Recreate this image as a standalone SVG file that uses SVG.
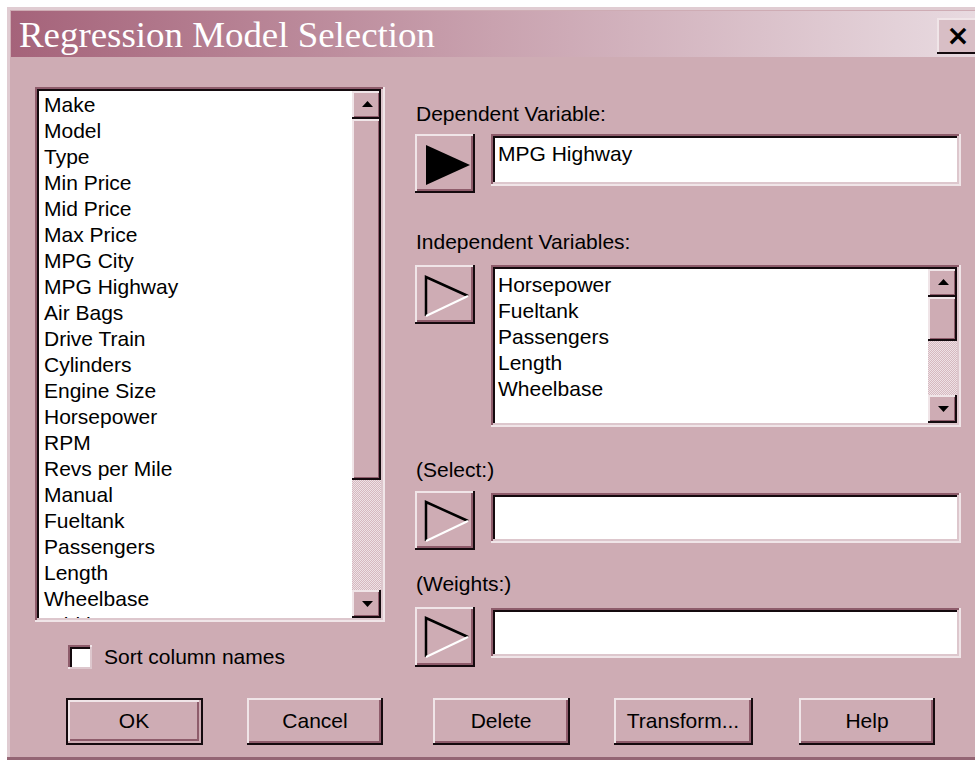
<svg xmlns="http://www.w3.org/2000/svg" width="975" height="760" viewBox="0 0 975 760">
<defs>
<linearGradient id="tg" x1="0" y1="0" x2="1" y2="0">
<stop offset="0" stop-color="#A5637A"/>
<stop offset="0.5" stop-color="#C9A2AF"/>
<stop offset="1" stop-color="#E8DAE0"/>
</linearGradient>
<pattern id="chk" width="2" height="2" patternUnits="userSpaceOnUse">
<rect width="2" height="2" fill="#D6B8BF"/>
<rect width="1" height="1" fill="#EEE2E6"/>
<rect x="1" y="1" width="1" height="1" fill="#EEE2E6"/>
</pattern>
<clipPath id="clipL"><rect x="39" y="91" width="313" height="527"/></clipPath>
<clipPath id="clipR"><rect x="495" y="269" width="433" height="154"/></clipPath>
</defs>
<style>
.t{font-family:"Liberation Sans",Arial,sans-serif;font-size:21px;fill:#000}
.c{text-anchor:middle}
.face{fill:#CEACB4}
.hi{fill:#F0E5E8}
.sh{fill:#8E5C6B}
.dk{fill:#140A0E}
.lt{fill:#DDC7CD}
.wh{fill:#FFFFFF}
.arr{fill:#000}
</style>

<!-- window frame -->
<rect x="0" y="0" width="975" height="760" fill="#FFFFFF"/>
<rect x="7" y="7" width="968" height="753" fill="#E0CCD2"/>
<rect x="10" y="10" width="965" height="747" class="face"/>
<rect x="7" y="757" width="968" height="3" fill="#946574"/>

<!-- title bar -->
<g id="titlebar">
<rect x="11" y="11" width="964" height="46" fill="url(#tg)"/>
<text x="19" y="47" font-family="'Liberation Serif','Times New Roman',serif" font-size="35" fill="#FFFFFF" textLength="416" lengthAdjust="spacingAndGlyphs">Regression Model Selection</text>
</g>
<g id="close">
<rect x="937" y="18" width="38" height="36" class="dk"/>
<rect x="937" y="18" width="38" height="34" class="hi"/>
<rect x="939" y="20" width="36" height="32" fill="#D8BEC5"/>
<text x="958" y="45" text-anchor="middle" font-family="'DejaVu Sans',sans-serif" font-weight="bold" font-size="28" fill="#000">×</text>
</g>

<!-- left variable list -->
<g id="varlist">
<rect x="35" y="87" width="350" height="535" class="hi"/>
<rect x="35" y="87" width="348" height="533" class="sh"/>
<rect x="37" y="89" width="346" height="531" class="lt"/>
<rect x="37" y="89" width="344" height="529" class="dk"/>
<rect x="39" y="91" width="342" height="527" class="wh"/>
<g clip-path="url(#clipL)" class="t">
<text x="44" y="112">Make</text>
<text x="44" y="138">Model</text>
<text x="44" y="164">Type</text>
<text x="44" y="190">Min Price</text>
<text x="44" y="216">Mid Price</text>
<text x="44" y="242">Max Price</text>
<text x="44" y="268">MPG City</text>
<text x="44" y="294">MPG Highway</text>
<text x="44" y="320">Air Bags</text>
<text x="44" y="346">Drive Train</text>
<text x="44" y="372">Cylinders</text>
<text x="44" y="398">Engine Size</text>
<text x="44" y="424">Horsepower</text>
<text x="44" y="450">RPM</text>
<text x="44" y="476">Revs per Mile</text>
<text x="44" y="502">Manual</text>
<text x="44" y="528">Fueltank</text>
<text x="44" y="554">Passengers</text>
<text x="44" y="580">Length</text>
<text x="44" y="606">Wheelbase</text>
<text x="44" y="632">Width</text>
</g>
<!-- scrollbar -->
<rect x="352" y="91" width="29" height="527" fill="url(#chk)"/>
<rect x="352" y="91" width="29" height="28" class="dk"/>
<rect x="352" y="91" width="27" height="26" class="hi"/>
<rect x="354" y="93" width="25" height="24" class="sh"/>
<rect x="354" y="93" width="24" height="23" class="face"/>
<polygon points="362,107 373,107 367.5,101" class="arr"/>
<rect x="352" y="119" width="29" height="361" class="dk"/>
<rect x="352" y="119" width="27" height="359" class="hi"/>
<rect x="354" y="121" width="25" height="357" class="sh"/>
<rect x="354" y="121" width="24" height="356" class="face"/>
<rect x="352" y="590" width="29" height="28" class="dk"/>
<rect x="352" y="590" width="27" height="26" class="hi"/>
<rect x="354" y="592" width="25" height="24" class="sh"/>
<rect x="354" y="592" width="24" height="23" class="face"/>
<polygon points="362,601 373,601 367.5,607" class="arr"/>
</g>

<!-- sort checkbox -->
<g id="sortcheck">
<rect x="68" y="645" width="24" height="24" class="hi"/>
<rect x="68" y="645" width="22" height="22" class="sh"/>
<rect x="70" y="647" width="22" height="22" class="lt"/>
<rect x="70" y="647" width="20" height="20" class="dk"/>
<rect x="72" y="649" width="18" height="18" class="wh"/>
<text x="104" y="664" class="t">Sort column names</text>
</g>

<!-- dependent variable -->
<g id="dependent">
<text x="416" y="121" class="t">Dependent Variable:</text>
<rect x="415" y="134" width="60" height="59" class="dk"/>
<rect x="415" y="134" width="58" height="57" class="hi"/>
<rect x="417" y="136" width="56" height="55" class="sh"/>
<rect x="417" y="136" width="54" height="53" class="face"/>
<polygon points="426,145 470,165 426,185" class="arr"/>
<rect x="491" y="134" width="470" height="52" class="hi"/>
<rect x="491" y="134" width="468" height="50" class="sh"/>
<rect x="493" y="136" width="466" height="48" class="lt"/>
<rect x="493" y="136" width="464" height="46" class="dk"/>
<rect x="495" y="138" width="462" height="44" class="wh"/>
<text x="498" y="161" class="t">MPG Highway</text>
</g>

<!-- independent variables -->
<g id="independent">
<text x="416" y="249" class="t">Independent Variables:</text>
<rect x="415" y="265" width="60" height="59" class="dk"/>
<rect x="415" y="265" width="58" height="57" class="hi"/>
<rect x="417" y="267" width="56" height="55" class="sh"/>
<rect x="417" y="267" width="54" height="53" class="face"/>
<polyline points="426,316 426,277 468,296" fill="none" stroke="#000" stroke-width="2.5"/>
<line x1="468" y1="296" x2="426" y2="316" stroke="#FFFFFF" stroke-width="2"/>
<rect x="491" y="265" width="470" height="162" class="hi"/>
<rect x="491" y="265" width="468" height="160" class="sh"/>
<rect x="493" y="267" width="466" height="158" class="lt"/>
<rect x="493" y="267" width="464" height="156" class="dk"/>
<rect x="495" y="269" width="462" height="154" class="wh"/>
<g clip-path="url(#clipR)" class="t">
<text x="498" y="292">Horsepower</text>
<text x="498" y="318">Fueltank</text>
<text x="498" y="344">Passengers</text>
<text x="498" y="370">Length</text>
<text x="498" y="396">Wheelbase</text>
</g>
<rect x="928" y="269" width="29" height="154" fill="url(#chk)"/>
<rect x="928" y="269" width="29" height="28" class="dk"/>
<rect x="928" y="269" width="27" height="26" class="hi"/>
<rect x="930" y="271" width="25" height="24" class="sh"/>
<rect x="930" y="271" width="24" height="23" class="face"/>
<polygon points="938,285 949,285 943.5,279" class="arr"/>
<rect x="928" y="297" width="29" height="44" class="dk"/>
<rect x="928" y="297" width="27" height="42" class="hi"/>
<rect x="930" y="299" width="25" height="40" class="sh"/>
<rect x="930" y="299" width="24" height="39" class="face"/>
<rect x="928" y="395" width="29" height="28" class="dk"/>
<rect x="928" y="395" width="27" height="26" class="hi"/>
<rect x="930" y="397" width="25" height="24" class="sh"/>
<rect x="930" y="397" width="24" height="23" class="face"/>
<polygon points="938,406 949,406 943.5,412" class="arr"/>
</g>

<!-- select -->
<g id="select">
<text x="416" y="477" class="t">(Select:)</text>
<rect x="415" y="491" width="60" height="59" class="dk"/>
<rect x="415" y="491" width="58" height="57" class="hi"/>
<rect x="417" y="493" width="56" height="55" class="sh"/>
<rect x="417" y="493" width="54" height="53" class="face"/>
<polyline points="426,541 426,502 468,521" fill="none" stroke="#000" stroke-width="2.5"/>
<line x1="468" y1="521" x2="426" y2="541" stroke="#FFFFFF" stroke-width="2"/>
<rect x="491" y="493" width="470" height="50" class="hi"/>
<rect x="491" y="493" width="468" height="48" class="sh"/>
<rect x="493" y="495" width="466" height="46" class="lt"/>
<rect x="493" y="495" width="464" height="44" class="dk"/>
<rect x="495" y="497" width="462" height="42" class="wh"/>
</g>

<!-- weights -->
<g id="weights">
<text x="416" y="591" class="t">(Weights:)</text>
<rect x="415" y="607" width="60" height="60" class="dk"/>
<rect x="415" y="607" width="58" height="58" class="hi"/>
<rect x="417" y="609" width="56" height="56" class="sh"/>
<rect x="417" y="609" width="54" height="54" class="face"/>
<polyline points="426,657 426,618 468,637" fill="none" stroke="#000" stroke-width="2.5"/>
<line x1="468" y1="637" x2="426" y2="657" stroke="#FFFFFF" stroke-width="2"/>
<rect x="491" y="608" width="470" height="50" class="hi"/>
<rect x="491" y="608" width="468" height="48" class="sh"/>
<rect x="493" y="610" width="466" height="46" class="lt"/>
<rect x="493" y="610" width="464" height="44" class="dk"/>
<rect x="495" y="612" width="462" height="42" class="wh"/>
</g>

<!-- bottom buttons -->
<g id="btn-ok">
<rect x="66" y="698" width="137" height="47" class="dk"/>
<rect x="68" y="700" width="133" height="43" class="face"/>
<rect x="68" y="700" width="131" height="41" class="hi"/>
<rect x="70" y="702" width="129" height="39" class="sh"/>
<rect x="70" y="702" width="127" height="37" class="face"/>
<text x="134" y="728" class="t c">OK</text>
</g>
<g id="btn-cancel">
<rect x="247" y="698" width="136" height="47" class="dk"/>
<rect x="247" y="698" width="134" height="45" class="hi"/>
<rect x="249" y="700" width="132" height="43" class="sh"/>
<rect x="249" y="700" width="130" height="41" class="face"/>
<text x="315" y="728" class="t c">Cancel</text>
</g>
<g id="btn-delete">
<rect x="433" y="698" width="137" height="47" class="dk"/>
<rect x="433" y="698" width="135" height="45" class="hi"/>
<rect x="435" y="700" width="133" height="43" class="sh"/>
<rect x="435" y="700" width="131" height="41" class="face"/>
<text x="501" y="728" class="t c">Delete</text>
</g>
<g id="btn-transform">
<rect x="614" y="698" width="139" height="47" class="dk"/>
<rect x="614" y="698" width="137" height="45" class="hi"/>
<rect x="616" y="700" width="135" height="43" class="sh"/>
<rect x="616" y="700" width="133" height="41" class="face"/>
<text x="683" y="728" class="t c">Transform...</text>
</g>
<g id="btn-help">
<rect x="799" y="698" width="136" height="47" class="dk"/>
<rect x="799" y="698" width="134" height="45" class="hi"/>
<rect x="801" y="700" width="132" height="43" class="sh"/>
<rect x="801" y="700" width="130" height="41" class="face"/>
<text x="867" y="728" class="t c">Help</text>
</g>
<g id="connectors"/>
</svg>
